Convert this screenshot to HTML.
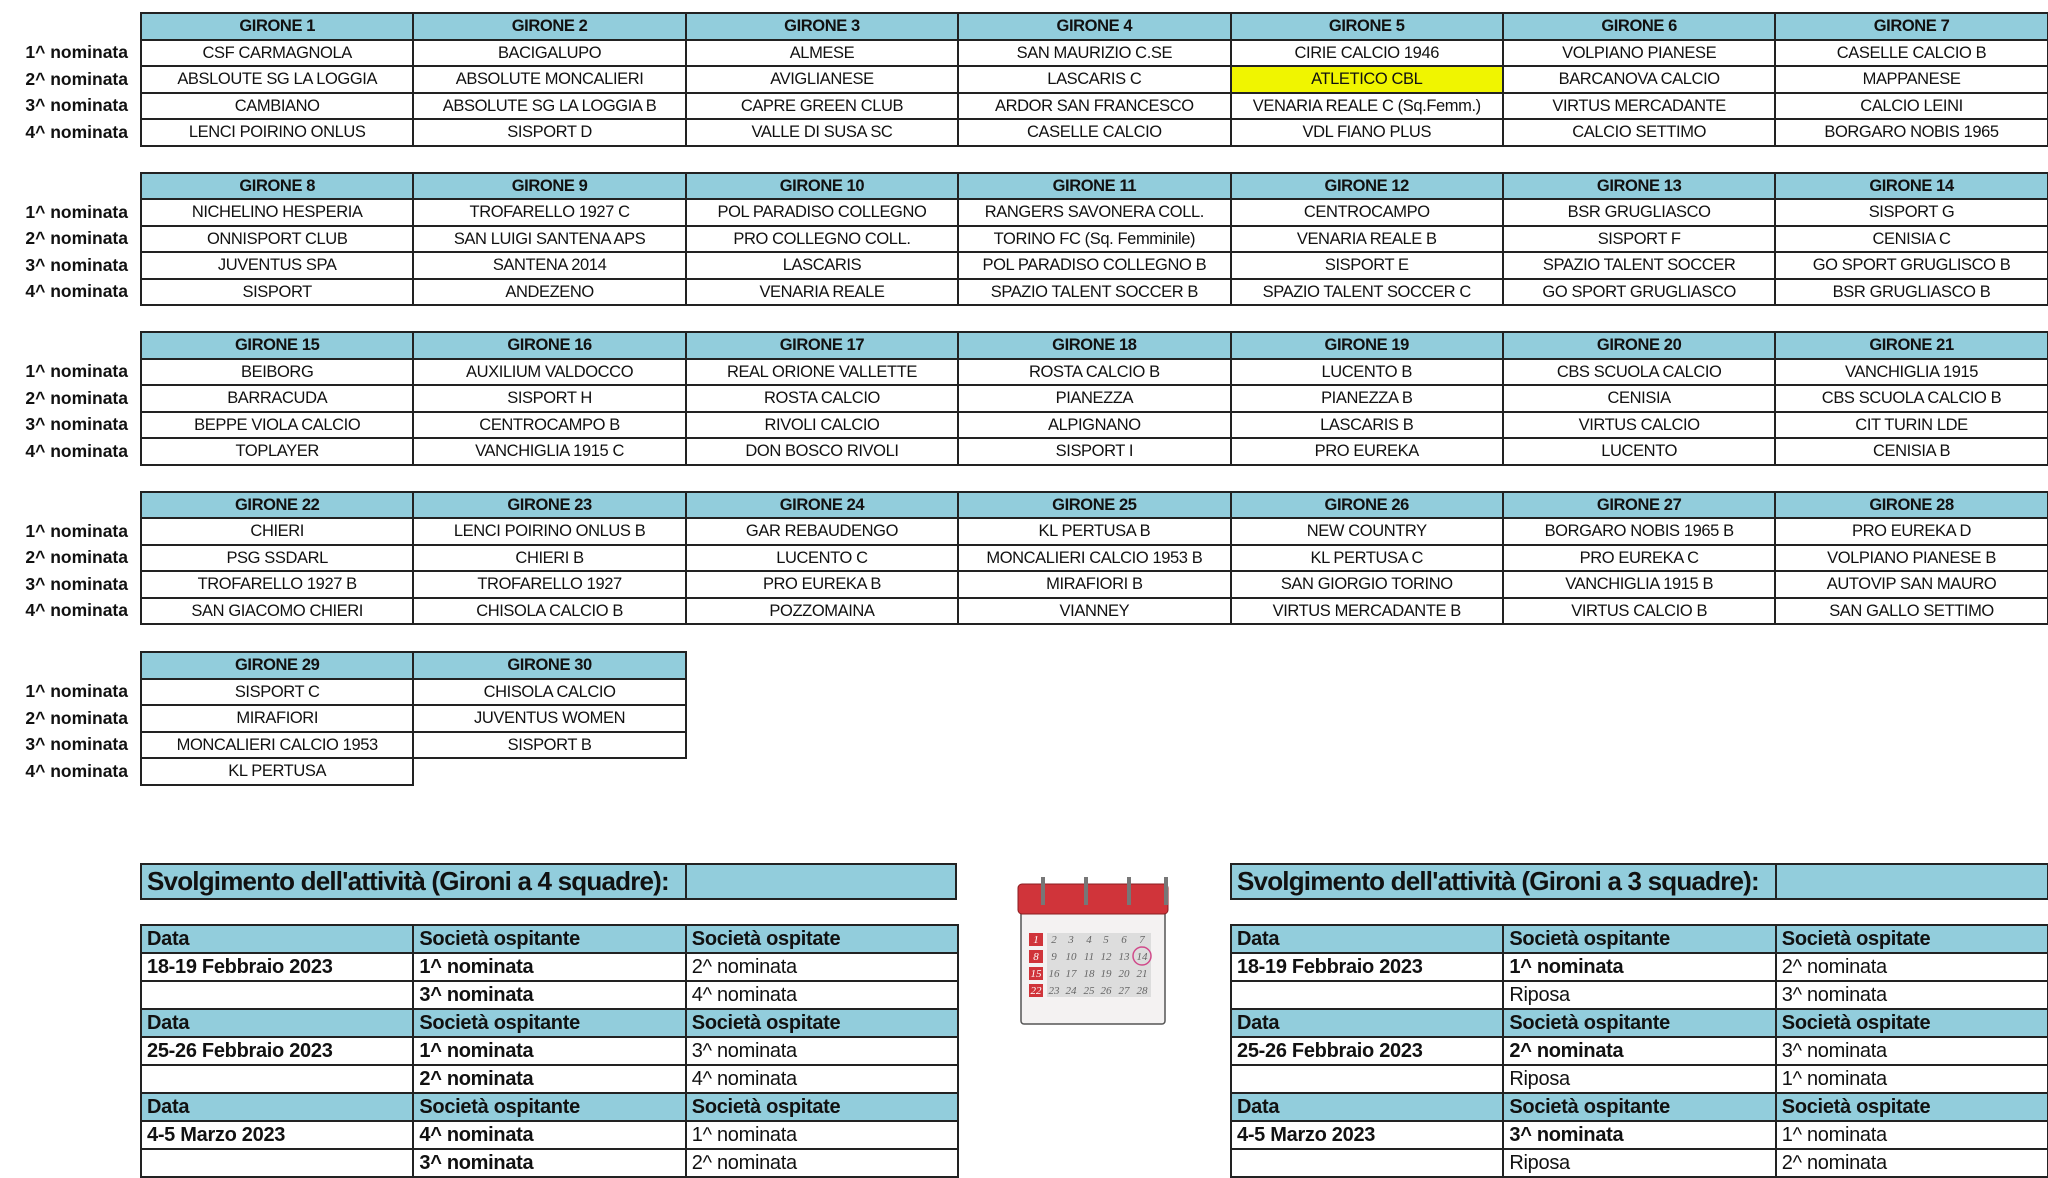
<!DOCTYPE html>
<html><head><meta charset="utf-8"><style>
html,body{margin:0;padding:0;background:#fff;width:2048px;height:1178px;overflow:hidden;position:relative}
body{font-family:"Liberation Sans",sans-serif;color:#111}
table{position:absolute;border-collapse:collapse;table-layout:fixed}
td{border:2px solid #222;padding:0;height:24.5px;font-size:16.5px;letter-spacing:-0.4px;text-align:center;white-space:nowrap;overflow:hidden;line-height:22px}
tr.h td{background:#92CDDC;font-weight:bold}
td.e{border:none;background:none}
.lab{position:absolute;left:0;width:128px;text-align:right;font-family:"Liberation Sans",sans-serif;font-weight:bold;font-size:17.5px;line-height:26.5px}
.bt td{text-align:left;padding-left:5px;font-size:20px;letter-spacing:-0.3px;height:26px;line-height:24px}
.bt tr.h td{font-weight:bold}
.bt td.b{font-weight:bold}
.title{position:absolute;top:863px;height:33px;background:#92CDDC;border:2px solid #222;font-weight:bold;font-size:26px;letter-spacing:-0.8px;white-space:nowrap;overflow:hidden;line-height:33px;padding-left:5px;box-sizing:content-box}
</style></head><body>

<div class="lab" style="top:39px">1^ nominata<br>2^ nominata<br>3^ nominata<br>4^ nominata</div>
<table style="left:140px;top:12px;width:1907px"><colgroup><col style="width:272.4px"><col style="width:272.4px"><col style="width:272.4px"><col style="width:272.4px"><col style="width:272.4px"><col style="width:272.4px"><col style="width:272.4px"></colgroup>
<tr class="h"><td>GIRONE 1</td><td>GIRONE 2</td><td>GIRONE 3</td><td>GIRONE 4</td><td>GIRONE 5</td><td>GIRONE 6</td><td>GIRONE 7</td></tr>
<tr><td>CSF CARMAGNOLA</td><td>BACIGALUPO</td><td>ALMESE</td><td>SAN MAURIZIO C.SE</td><td>CIRIE CALCIO 1946</td><td>VOLPIANO PIANESE</td><td>CASELLE CALCIO B</td></tr>
<tr><td>ABSLOUTE SG LA LOGGIA</td><td>ABSOLUTE MONCALIERI</td><td>AVIGLIANESE</td><td>LASCARIS C</td><td style="background:#F0F500">ATLETICO CBL</td><td>BARCANOVA CALCIO</td><td>MAPPANESE</td></tr>
<tr><td>CAMBIANO</td><td>ABSOLUTE SG LA LOGGIA B</td><td>CAPRE GREEN CLUB</td><td>ARDOR SAN FRANCESCO</td><td>VENARIA REALE C (Sq.Femm.)</td><td>VIRTUS MERCADANTE</td><td>CALCIO LEINI</td></tr>
<tr><td>LENCI POIRINO ONLUS</td><td>SISPORT D</td><td>VALLE DI SUSA SC</td><td>CASELLE CALCIO</td><td>VDL FIANO PLUS</td><td>CALCIO SETTIMO</td><td>BORGARO NOBIS 1965</td></tr>
</table>

<div class="lab" style="top:198.5px">1^ nominata<br>2^ nominata<br>3^ nominata<br>4^ nominata</div>
<table style="left:140px;top:171.5px;width:1907px"><colgroup><col style="width:272.4px"><col style="width:272.4px"><col style="width:272.4px"><col style="width:272.4px"><col style="width:272.4px"><col style="width:272.4px"><col style="width:272.4px"></colgroup>
<tr class="h"><td>GIRONE 8</td><td>GIRONE 9</td><td>GIRONE 10</td><td>GIRONE 11</td><td>GIRONE 12</td><td>GIRONE 13</td><td>GIRONE 14</td></tr>
<tr><td>NICHELINO HESPERIA</td><td>TROFARELLO 1927 C</td><td>POL PARADISO COLLEGNO</td><td>RANGERS SAVONERA COLL.</td><td>CENTROCAMPO</td><td>BSR GRUGLIASCO</td><td>SISPORT G</td></tr>
<tr><td>ONNISPORT CLUB</td><td>SAN LUIGI SANTENA APS</td><td>PRO COLLEGNO COLL.</td><td>TORINO FC (Sq. Femminile)</td><td>VENARIA REALE B</td><td>SISPORT F</td><td>CENISIA C</td></tr>
<tr><td>JUVENTUS SPA</td><td>SANTENA 2014</td><td>LASCARIS</td><td>POL PARADISO COLLEGNO B</td><td>SISPORT E</td><td>SPAZIO TALENT SOCCER</td><td>GO SPORT GRUGLISCO B</td></tr>
<tr><td>SISPORT</td><td>ANDEZENO</td><td>VENARIA REALE</td><td>SPAZIO TALENT SOCCER B</td><td>SPAZIO TALENT SOCCER C</td><td>GO SPORT GRUGLIASCO</td><td>BSR GRUGLIASCO B</td></tr>
</table>

<div class="lab" style="top:358px">1^ nominata<br>2^ nominata<br>3^ nominata<br>4^ nominata</div>
<table style="left:140px;top:331px;width:1907px"><colgroup><col style="width:272.4px"><col style="width:272.4px"><col style="width:272.4px"><col style="width:272.4px"><col style="width:272.4px"><col style="width:272.4px"><col style="width:272.4px"></colgroup>
<tr class="h"><td>GIRONE 15</td><td>GIRONE 16</td><td>GIRONE 17</td><td>GIRONE 18</td><td>GIRONE 19</td><td>GIRONE 20</td><td>GIRONE 21</td></tr>
<tr><td>BEIBORG</td><td>AUXILIUM VALDOCCO</td><td>REAL ORIONE VALLETTE</td><td>ROSTA CALCIO B</td><td>LUCENTO B</td><td>CBS SCUOLA CALCIO</td><td>VANCHIGLIA 1915</td></tr>
<tr><td>BARRACUDA</td><td>SISPORT H</td><td>ROSTA CALCIO</td><td>PIANEZZA</td><td>PIANEZZA B</td><td>CENISIA</td><td>CBS SCUOLA CALCIO B</td></tr>
<tr><td>BEPPE VIOLA CALCIO</td><td>CENTROCAMPO B</td><td>RIVOLI CALCIO</td><td>ALPIGNANO</td><td>LASCARIS B</td><td>VIRTUS CALCIO</td><td>CIT TURIN LDE</td></tr>
<tr><td>TOPLAYER</td><td>VANCHIGLIA 1915 C</td><td>DON BOSCO RIVOLI</td><td>SISPORT I</td><td>PRO EUREKA</td><td>LUCENTO</td><td>CENISIA B</td></tr>
</table>

<div class="lab" style="top:517.5px">1^ nominata<br>2^ nominata<br>3^ nominata<br>4^ nominata</div>
<table style="left:140px;top:490.5px;width:1907px"><colgroup><col style="width:272.4px"><col style="width:272.4px"><col style="width:272.4px"><col style="width:272.4px"><col style="width:272.4px"><col style="width:272.4px"><col style="width:272.4px"></colgroup>
<tr class="h"><td>GIRONE 22</td><td>GIRONE 23</td><td>GIRONE 24</td><td>GIRONE 25</td><td>GIRONE 26</td><td>GIRONE 27</td><td>GIRONE 28</td></tr>
<tr><td>CHIERI</td><td>LENCI POIRINO ONLUS B</td><td>GAR REBAUDENGO</td><td>KL PERTUSA B</td><td>NEW COUNTRY</td><td>BORGARO NOBIS 1965 B</td><td>PRO EUREKA D</td></tr>
<tr><td>PSG SSDARL</td><td>CHIERI B</td><td>LUCENTO C</td><td>MONCALIERI CALCIO 1953 B</td><td>KL PERTUSA C</td><td>PRO EUREKA C</td><td>VOLPIANO PIANESE B</td></tr>
<tr><td>TROFARELLO 1927 B</td><td>TROFARELLO 1927</td><td>PRO EUREKA B</td><td>MIRAFIORI B</td><td>SAN GIORGIO TORINO</td><td>VANCHIGLIA 1915 B</td><td>AUTOVIP SAN MAURO</td></tr>
<tr><td>SAN GIACOMO CHIERI</td><td>CHISOLA CALCIO B</td><td>POZZOMAINA</td><td>VIANNEY</td><td>VIRTUS MERCADANTE B</td><td>VIRTUS CALCIO B</td><td>SAN GALLO SETTIMO</td></tr>
</table>

<div class="lab" style="top:678px">1^ nominata<br>2^ nominata<br>3^ nominata<br>4^ nominata</div>
<table style="left:140px;top:651px;width:545px"><colgroup><col style="width:272.4px"><col style="width:272.4px"></colgroup>
<tr class="h"><td>GIRONE 29</td><td>GIRONE 30</td></tr>
<tr><td>SISPORT C</td><td>CHISOLA CALCIO</td></tr>
<tr><td>MIRAFIORI</td><td>JUVENTUS WOMEN</td></tr>
<tr><td>MONCALIERI CALCIO 1953</td><td>SISPORT B</td></tr>
<tr><td>KL PERTUSA</td><td class="e"></td></tr>
</table>

<div class="title" style="left:140px;width:538px">Svolgimento dell'attività (Gironi a 4 squadre):</div>
<div class="title" style="left:685px;width:268px;padding-left:0"></div>
<table class="bt" style="left:140px;top:924px;width:817px"><colgroup><col style="width:272.4px"><col style="width:272.4px"><col style="width:272.4px"></colgroup>
<tr class="h"><td>Data</td><td>Società ospitante</td><td>Società ospitate</td></tr>
<tr><td class="b">18-19 Febbraio 2023</td><td class="b">1^ nominata</td><td>2^ nominata</td></tr>
<tr><td></td><td class="b">3^ nominata</td><td>4^ nominata</td></tr>
<tr class="h"><td>Data</td><td>Società ospitante</td><td>Società ospitate</td></tr>
<tr><td class="b">25-26 Febbraio 2023</td><td class="b">1^ nominata</td><td>3^ nominata</td></tr>
<tr><td></td><td class="b">2^ nominata</td><td>4^ nominata</td></tr>
<tr class="h"><td>Data</td><td>Società ospitante</td><td>Società ospitate</td></tr>
<tr><td class="b">4-5 Marzo 2023</td><td class="b">4^ nominata</td><td>1^ nominata</td></tr>
<tr><td></td><td class="b">3^ nominata</td><td>2^ nominata</td></tr>
</table>

<div class="title" style="left:1230px;width:538px">Svolgimento dell'attività (Gironi a 3 squadre):</div>
<div class="title" style="left:1775px;width:270px;padding-left:0"></div>
<table class="bt" style="left:1230px;top:924px;width:817px"><colgroup><col style="width:272.4px"><col style="width:272.4px"><col style="width:272.4px"></colgroup>
<tr class="h"><td>Data</td><td>Società ospitante</td><td>Società ospitate</td></tr>
<tr><td class="b">18-19 Febbraio 2023</td><td class="b">1^ nominata</td><td>2^ nominata</td></tr>
<tr><td></td><td>Riposa</td><td>3^ nominata</td></tr>
<tr class="h"><td>Data</td><td>Società ospitante</td><td>Società ospitate</td></tr>
<tr><td class="b">25-26 Febbraio 2023</td><td class="b">2^ nominata</td><td>3^ nominata</td></tr>
<tr><td></td><td>Riposa</td><td>1^ nominata</td></tr>
<tr class="h"><td>Data</td><td>Società ospitante</td><td>Società ospitate</td></tr>
<tr><td class="b">4-5 Marzo 2023</td><td class="b">3^ nominata</td><td>1^ nominata</td></tr>
<tr><td></td><td>Riposa</td><td>2^ nominata</td></tr>
</table>

<svg style="position:absolute;left:1016px;top:872px" width="154" height="156" viewBox="0 0 154 156">
<rect x="5" y="20" width="144" height="132" rx="3" fill="#f4f2f2" stroke="#555" stroke-width="1.5"/>
<rect x="2" y="12" width="150" height="30" rx="4" fill="#d0343a" stroke="#8a1d20" stroke-width="1"/>
<g fill="none" stroke="#777" stroke-width="4">
<path d="M27 5 v28"/><path d="M70 5 v28"/><path d="M113 5 v28"/><path d="M150 5 v28"/></g>
<g font-family="Liberation Serif,serif" font-style="italic" font-size="11" text-anchor="middle" fill="#666">
<g fill="#d0343a"><rect x="13" y="61" width="14" height="13"/><rect x="13" y="78" width="14" height="13"/><rect x="13" y="95" width="14" height="13"/><rect x="13" y="112" width="14" height="13"/></g>
<g fill="#ddd"><rect x="31" y="61" width="104" height="64"/></g>
<text x="20" y="71" fill="#fff">1</text><text x="38" y="71">2</text><text x="55" y="71">3</text><text x="73" y="71">4</text><text x="90" y="71">5</text><text x="108" y="71">6</text><text x="126" y="71">7</text>
<text x="20" y="88" fill="#fff">8</text><text x="38" y="88">9</text><text x="55" y="88">10</text><text x="73" y="88">11</text><text x="90" y="88">12</text><text x="108" y="88">13</text><text x="126" y="88">14</text>
<text x="20" y="105" fill="#fff">15</text><text x="38" y="105">16</text><text x="55" y="105">17</text><text x="73" y="105">18</text><text x="90" y="105">19</text><text x="108" y="105">20</text><text x="126" y="105">21</text>
<text x="20" y="122" fill="#fff">22</text><text x="38" y="122">23</text><text x="55" y="122">24</text><text x="73" y="122">25</text><text x="90" y="122">26</text><text x="108" y="122">27</text><text x="126" y="122">28</text>
</g>
<circle cx="126" cy="84" r="9" fill="none" stroke="#d04a8a" stroke-width="1.5"/>
</svg>
</body></html>
